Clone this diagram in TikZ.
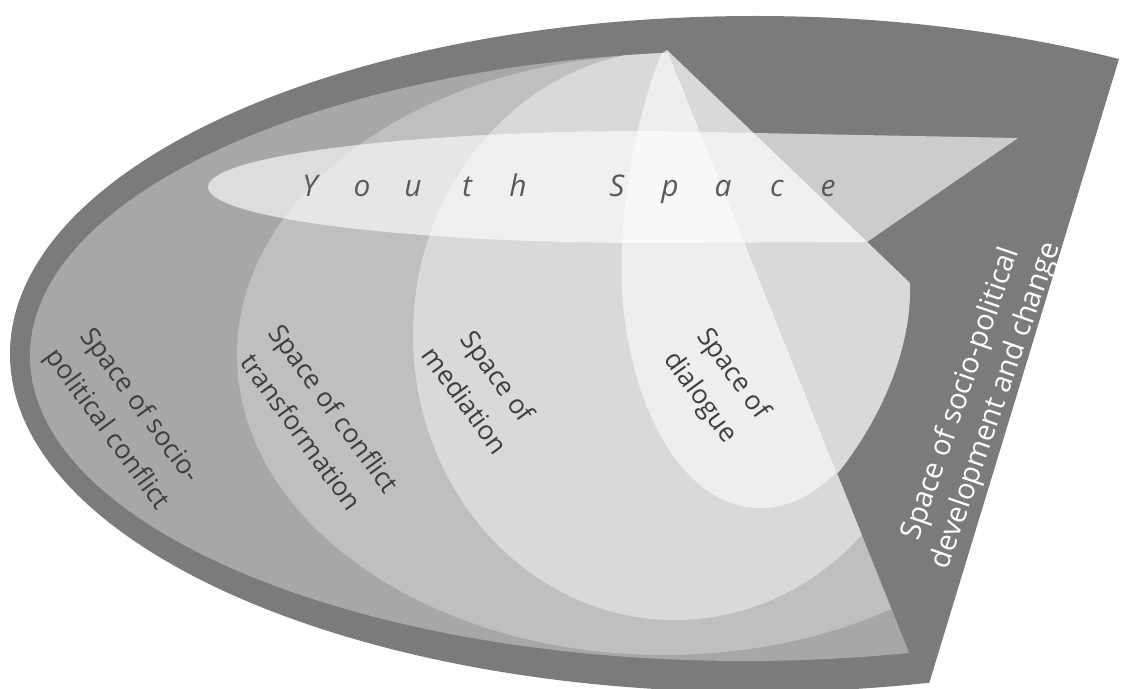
\documentclass[tikz,border=0pt]{standalone}
\usepackage{fontspec}
\setmainfont{Open Sans}
\usetikzlibrary{positioning}
\definecolor{outerband}{HTML}{7B7B7B}
\definecolor{conflict}{HTML}{A7A7A7}
\definecolor{transf}{HTML}{BFBFBF}
\definecolor{mediation}{HTML}{D9D9D9}
\definecolor{dialogue}{HTML}{EEEEEE}
\definecolor{labeltxt}{HTML}{3E3E3E}
\definecolor{youthtxt}{HTML}{5A5A5A}

\begin{document}
\begin{tikzpicture}[x=0.02cm, y=-0.02cm]
  \tikzset{
    spacelabel/.style={text=labeltxt, align=center, rotate=-54, inner sep=0pt, font=\fontsize{15}{23}\selectfont},
    devlabel/.style  ={text=white, align=center, rotate=71, inner sep=0pt, font=\fontsize{16.5}{21}\selectfont},
    youthletter/.style={text=youthtxt, anchor=base, inner sep=0pt, font=\fontsize{17}{17}\selectfont\itshape},
  }
  \useasboundingbox (0,0) rectangle (1136,689);
  \coordinate (apex) at (667,50);

  % outer space: development and change
  \begin{scope}
    \clip (1143,-20) -- (921,710) -- (-20,710) -- (-20,-20) -- cycle;
    \fill[outerband] (755,354) ellipse [x radius=745, y radius=338];
  \end{scope}

  % wedge right of the dialogue edge (its left part is covered below)
  \fill[mediation] (apex) -- (910,283) .. controls (912,350) and (880,420) .. (838,473)
    -- (800,473) -- (655,58) -- cycle;

  % nested spaces, cut at the left edge of the wedge
  \begin{scope}
    \clip (639,-20) -- (936,720) -- (-20,720) -- (-20,-20) -- cycle;
    \fill[conflict] (745,356) ellipse [x radius=715, y radius=305];
    \clip (745,356) ellipse [x radius=715, y radius=305];
    \fill[transf] (664,355) ellipse [x radius=427, y radius=300];
    \fill[mediation] (675,335) ellipse [x radius=262, y radius=285];
    \fill[dialogue] (667,40) .. controls (640,100) and (618,200) .. (622,290)
      .. controls (628,400) and (680,508) .. (760,508)
      .. controls (800,508) and (830,482) .. (852,455) -- (900,40) -- cycle;
  \end{scope}

  % youth space
  \fill[white, fill opacity=0.62] (650,243) arc[start angle=90, end angle=270, x radius=442, y radius=56]
    -- (1018,138) -- (867,242) -- cycle;
  \foreach \ch/\px [count=\i] in {Y/310, o/362, u/413, t/467, h/518, S/617, p/670, a/723, c/777, e/828}
    \node[youthletter] (yl\i) at (\px,197) {\ch};

  \node[spacelabel] (sociopol)  at (123,418) {Space of socio-\\political conflict};
  \node[spacelabel] (transform) at (318,420) {Space of conflict\\transformation};
  \node[spacelabel] (mediate)   at (482,388) {Space of\\mediation};
  \node[spacelabel] (dialog)    at (716,386) {Space of\\dialogue};
  \node[devlabel]   (develop)   at (979,400) {Space of socio-political\\development and change};
\end{tikzpicture}
\end{document}
